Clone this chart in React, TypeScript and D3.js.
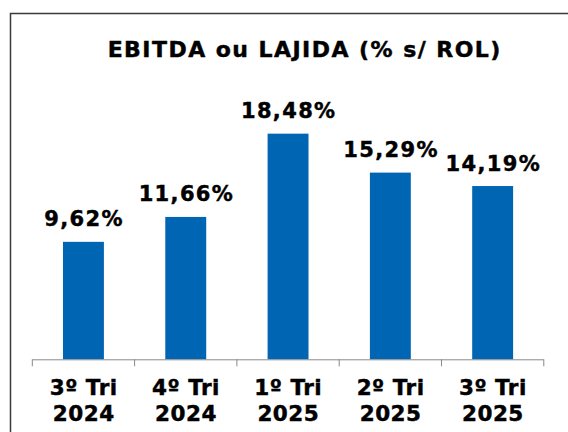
import React from "react";
import * as d3 from "d3";

const categoriesLine1 = ["3º Tri", "4º Tri", "1º Tri", "2º Tri", "3º Tri"];
const categoriesLine2 = ["2024", "2024", "2025", "2025", "2025"];
const values = [9.62, 11.66, 18.48, 15.29, 14.19];
const valueLabels = ["9,62%", "11,66%", "18,48%", "15,29%", "14,19%"];
const title = "EBITDA ou LAJIDA (% s/ ROL)";

const W = 568;
const H = 432;
const FONT = "'DejaVu Sans', Verdana, sans-serif";

export default function App() {
  const ids = values.map((_, i) => String(i));
  const x = d3
    .scaleBand<string>()
    .domain(ids)
    .range([32.3, 543.8])
    .paddingInner(0.6)
    .paddingOuter(0.3);
  const y = d3.scaleLinear().domain([0, 20]).range([359.3, 115.1]);
  const step = x.step();
  const x0 = 32.3;
  const tickXs = d3.range(values.length + 1).map((i) => x0 + i * step);

  const titleLS = 1.45;
  const valLS = 1.35;
  const catLS = 0.5;
  const textStroke = { stroke: "#000", strokeWidth: 0.45 };

  return (
    <svg
      width={W}
      height={H}
      style={{ position: "absolute", left: 0, top: 0, background: "#fff" }}
    >
      <rect x={0} y={0} width={W} height={H} fill="#fff" />
      <rect
        x={10.5}
        y={13.5}
        width={W + 20}
        height={H + 20}
        fill="none"
        stroke="#3a3a3a"
        strokeWidth={1.5}
      />
      <text
        x={304 + titleLS / 2}
        y={56.7}
        textAnchor="middle"
        fontFamily={FONT}
        fontWeight="bold"
        fontSize={22}
        letterSpacing={titleLS}
        fill="#000"
        {...textStroke}
      >
        {title}
      </text>
      {values.map((v, i) => (
        <rect
          key={"b" + i}
          x={x(String(i))}
          y={y(v)}
          width={x.bandwidth()}
          height={y(0) - y(v)}
          fill="#0066B3"
        />
      ))}
      {values.map((v, i) => (
        <text
          key={"l" + i}
          x={(x(String(i)) as number) + x.bandwidth() / 2 + valLS / 2}
          y={y(v) - 15.5}
          textAnchor="middle"
          fontFamily={FONT}
          fontWeight="bold"
          fontSize={21}
          letterSpacing={valLS}
          fill="#000"
          {...textStroke}
        >
          {valueLabels[i]}
        </text>
      ))}
      <line
        x1={tickXs[0]}
        x2={tickXs[tickXs.length - 1]}
        y1={y(0) + 0.5}
        y2={y(0) + 0.5}
        stroke="#898989"
        strokeWidth={1}
      />
      {tickXs.map((tx, i) => (
        <line
          key={"t" + i}
          x1={tx}
          x2={tx}
          y1={y(0)}
          y2={y(0) + 7}
          stroke="#898989"
          strokeWidth={1}
        />
      ))}
      {values.map((_, i) => {
        const cx = (x(String(i)) as number) + x.bandwidth() / 2 + catLS / 2;
        return (
          <text
            key={"c" + i}
            x={cx}
            textAnchor="middle"
            fontFamily={FONT}
            fontWeight="bold"
            fontSize={21.5}
            letterSpacing={catLS}
            fill="#000"
            {...textStroke}
          >
            <tspan x={cx} y={395}>
              {categoriesLine1[i]}
            </tspan>
            <tspan x={cx} y={421}>
              {categoriesLine2[i]}
            </tspan>
          </text>
        );
      })}
    </svg>
  );
}
